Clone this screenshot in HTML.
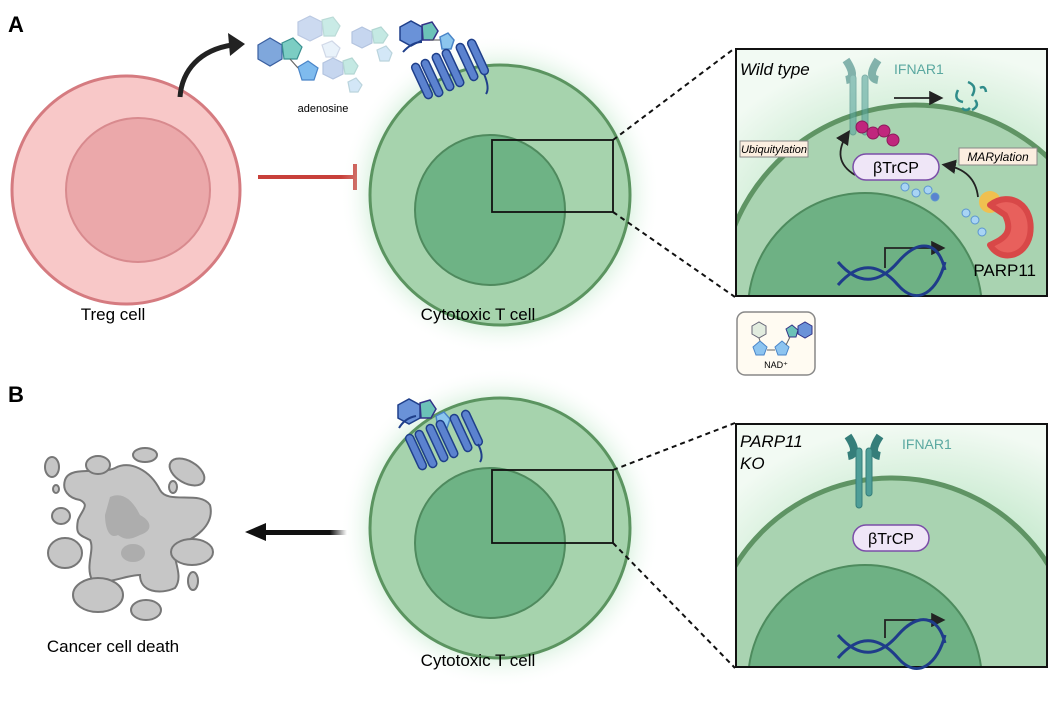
<!DOCTYPE html>
<html><head><meta charset="utf-8"><style>
html,body{margin:0;background:#fff;width:1050px;height:702px;overflow:hidden}
svg{display:block}
svg text{font-family:"Liberation Sans",sans-serif}
</style></head><body>
<svg width="1050" height="702" viewBox="0 0 1050 702" xmlns="http://www.w3.org/2000/svg">
<defs>
<radialGradient id="glow" cx="50%" cy="50%" r="50%">
<stop offset="0.7" stop-color="#9fdcae" stop-opacity="0.8"/>
<stop offset="1" stop-color="#ffffff" stop-opacity="0"/>
</radialGradient>
<radialGradient id="boxg" cx="60%" cy="80%" r="80%">
<stop offset="0.4" stop-color="#b8e4c2"/>
<stop offset="1" stop-color="#f2faf3"/>
</radialGradient>
<clipPath id="ca"><rect x="736" y="49" width="311" height="247"/></clipPath>
<clipPath id="cb"><rect x="736" y="424" width="311" height="243"/></clipPath>
<marker id="ah" markerWidth="8" markerHeight="8" refX="6" refY="4" orient="auto"><path d="M0,0 L8,4 L0,8 z" fill="#222"/></marker>
<linearGradient id="fade" x1="0" x2="1"><stop offset="0" stop-color="#111"/><stop offset="0.8" stop-color="#111"/><stop offset="1" stop-color="#111" stop-opacity="0"/></linearGradient>
</defs>

<text x="8" y="32" font-size="22" font-weight="bold">A</text>
<text x="8" y="402" font-size="22" font-weight="bold">B</text>

<!-- Treg -->
<circle cx="126" cy="190" r="114" fill="#f8c8c8" stroke="#d57b80" stroke-width="3"/>
<circle cx="138" cy="190" r="72" fill="#eba8aa" stroke="#d88a8e" stroke-width="2"/>
<text x="113" y="320" font-size="17" text-anchor="middle">Treg cell</text>
<path d="M180,97 C182,70 200,50 232,45" fill="none" stroke="#222" stroke-width="5"/>
<path d="M245,44 L228,33 L230,56 z" fill="#222"/>
<line x1="258" y1="177" x2="355" y2="177" stroke="#c8403a" stroke-width="4"/>
<line x1="355" y1="164" x2="355" y2="190" stroke="#c8403a" stroke-width="4"/>

<!-- adenosine -->
<g stroke-width="1.2">
<polygon points="258,45 270,38 282,45 282,59 270,66 258,59" fill="#7fa7dc" stroke="#3a5fa0"/>
<polygon points="282,43 293,38 302,47 297,59 284,59" fill="#7ccdc3" stroke="#3a9090"/>
<polygon points="298,67 308,61 318,68 314,80 302,80" fill="#7fbbee" stroke="#4a85c8"/>
<line x1="290" y1="59" x2="298" y2="68" stroke="#666"/>
<g opacity="0.45"><polygon points="298,22 310,16 322,22 322,35 310,41 298,35" fill="#8faee0" stroke="#6a8ac0"/><polygon points="322,20 333,17 340,26 335,36 324,36" fill="#8ad4c9" stroke="#6ab0a8"/><polygon points="322,45 332,41 340,48 336,57 326,57" fill="#cfe4f6" stroke="#9ac"/></g>
<g opacity="0.5"><polygon points="352,32 362,27 372,32 372,43 362,48 352,43" fill="#8faee0" stroke="#6a8ac0"/><polygon points="372,30 381,27 388,35 383,43 374,43" fill="#8ad4c9" stroke="#6ab0a8"/><polygon points="377,50 386,46 392,53 389,61 380,61" fill="#a8d0f0" stroke="#7ab"/></g>
<g opacity="0.5"><polygon points="323,63 333,58 343,63 343,74 333,79 323,74" fill="#8faee0" stroke="#6a8ac0"/><polygon points="343,61 352,58 358,66 354,74 345,74" fill="#8ad4c9" stroke="#6ab0a8"/><polygon points="348,82 356,78 362,85 358,92 350,92" fill="#a8d0f0" stroke="#7ab"/></g>
</g>
<text x="323" y="112" font-size="11" text-anchor="middle">adenosine</text>

<!-- T cell A -->
<circle cx="500" cy="195" r="160" fill="url(#glow)"/>
<circle cx="500" cy="195" r="130" fill="#a6d3ad" stroke="#5b9460" stroke-width="3"/>
<circle cx="490" cy="210" r="75" fill="#6eb385" stroke="#4f8a5e" stroke-width="2"/>
<rect x="492" y="140" width="121" height="72" fill="none" stroke="#111" stroke-width="1.8"/>
<text x="478" y="320" font-size="17" text-anchor="middle">Cytotoxic T cell</text>
<g fill="#5b82cf" stroke="#1f3f8a" stroke-width="1.5">
<polygon points="400,27 411,21 422,27 422,40 411,46 400,40" fill="#6a92d8"/>
<polygon points="422,25 432,22 438,31 433,40 423,40" fill="#6cc2b8" stroke="#338"/>
<polygon points="440,37 448,33 454,40 451,49 442,49" fill="#8cc6ee" stroke="#4a85c8"/>
<line x1="430" y1="40" x2="440" y2="40" stroke="#555" stroke-width="1"/>
<rect x="418" y="62" width="8" height="38" rx="4" transform="rotate(-25 422 81)"/>
<rect x="428" y="58" width="8" height="40" rx="4" transform="rotate(-25 432 78)"/>
<rect x="439" y="52" width="8" height="40" rx="4" transform="rotate(-25 443 72)"/>
<rect x="449" y="48" width="8" height="40" rx="4" transform="rotate(-25 453 68)"/>
<rect x="463" y="42" width="8" height="40" rx="4" transform="rotate(-25 467 62)"/>
<rect x="474" y="38" width="8" height="38" rx="4" transform="rotate(-25 478 57)"/>
</g>
<path d="M403,52 Q412,42 422,42 M484,74 Q490,88 486,94" fill="none" stroke="#1f3f8a" stroke-width="2"/>

<line x1="613" y1="140" x2="735" y2="48" stroke="#111" stroke-width="2" stroke-dasharray="5,4"/>
<line x1="613" y1="212" x2="735" y2="297" stroke="#111" stroke-width="2" stroke-dasharray="5,4"/>

<!-- Box A -->
<rect x="736" y="49" width="311" height="247" fill="url(#boxg)"/>
<g clip-path="url(#ca)">
<circle cx="915" cy="300" r="195" fill="#a9d3b1" stroke="#5f9464" stroke-width="5"/>
<circle cx="865" cy="310" r="117" fill="#6eb184" stroke="#4e8b5e" stroke-width="2"/>
</g>
<rect x="736" y="49" width="311" height="247" fill="none" stroke="#111" stroke-width="2"/>
<text x="740" y="75" font-size="17" font-style="italic">Wild type</text>
<g opacity="0.6" fill="#5aa69e" stroke="#3d8580">
<path d="M846,60 q12,18 0,20 M878,60 q-12,18 0,20" stroke-width="8" fill="none"/>
<rect x="850" y="75" width="6" height="60" rx="3"/><rect x="862" y="75" width="6" height="60" rx="3"/>
</g>
<text x="894" y="74" font-size="14" fill="#5aa8a0">IFNAR1</text>
<line x1="894" y1="98" x2="940" y2="98" stroke="#222" stroke-width="1.8" marker-end="url(#ah)"/>
<g fill="none" stroke="#2f8c8a" stroke-width="2.5"><path d="M958,90 q-5,10 5,12 M968,82 q10,4 4,14 M975,100 q5,6 -3,10 M962,108 q4,4 8,0 M980,88 q5,-3 6,4"/></g>
<g fill="#c0267d" stroke="#8c1a5a"><circle cx="862" cy="127" r="6"/><circle cx="873" cy="133" r="6"/><circle cx="884" cy="131" r="6"/><circle cx="893" cy="140" r="6"/></g>
<path d="M855,175 Q830,160 848,133" fill="none" stroke="#222" stroke-width="1.8" marker-end="url(#ah)"/>
<rect x="740" y="141" width="68" height="16" fill="#fbeee0" stroke="#888"/>
<text x="774" y="153" font-size="11" font-style="italic" text-anchor="middle">Ubiquitylation</text>
<rect x="959" y="148" width="78" height="17" fill="#fbeee0" stroke="#888"/>
<text x="998" y="161" font-size="12" font-style="italic" text-anchor="middle">MARylation</text>
<rect x="853" y="154" width="86" height="26" rx="13" fill="#efe6f7" stroke="#7b4ea8" stroke-width="1.5"/>
<text x="896" y="173" font-size="16" text-anchor="middle">βTrCP</text>
<path d="M978,197 Q975,170 945,165" fill="none" stroke="#222" stroke-width="1.8" marker-end="url(#ah)"/>
<g fill="#a8d4f4" stroke="#5b95cf"><circle cx="905" cy="187" r="4"/><circle cx="916" cy="193" r="4"/><circle cx="928" cy="190" r="4"/><circle cx="935" cy="197" r="4" fill="#5b82cf"/><circle cx="966" cy="213" r="4"/><circle cx="975" cy="220" r="4"/><circle cx="982" cy="232" r="4"/></g>
<circle cx="990" cy="202" r="11" fill="#f0c050"/>
<path d="M990,205 C1010,190 1035,205 1030,235 C1025,258 1000,262 990,245 C1000,240 1015,235 1005,215 Z" fill="#e8605c" stroke="#d84848" stroke-width="6" stroke-linejoin="round"/>
<text x="1036" y="276" font-size="17" text-anchor="end">PARP11</text>
<path d="M885,268 L885,248 L942,248" fill="none" stroke="#222" stroke-width="1.8" marker-end="url(#ah)"/>
<path d="M838,262 C858,285 878,285 898,262 S938,240 945,270 M838,285 C858,262 878,262 898,285 S938,290 945,262" fill="none" stroke="#1f3c8a" stroke-width="3"/>

<!-- NAD box -->
<rect x="737" y="312" width="78" height="63" rx="8" fill="#fffbf2" stroke="#888" stroke-width="1.5"/>
<polygon points="752,326 759,322 766,326 766,334 759,338 752,334" fill="#e2ecdf" stroke="#667"/>
<polygon points="753,347 760,341 767,347 764,355 756,355" fill="#8dc4f0" stroke="#4a85c8"/>
<polygon points="775,347 782,341 789,347 786,355 778,355" fill="#8dc4f0" stroke="#4a85c8"/>
<polygon points="786,329 792,325 798,330 796,337 789,337" fill="#6cc2b8" stroke="#338"/>
<polygon points="798,326 805,322 812,326 812,334 805,338 798,334" fill="#6a92d8" stroke="#338"/>
<path d="M759,338 L760,341 M767,350 L775,350 M786,345 L790,337" stroke="#666" fill="none"/>
<text x="776" y="368" font-size="9" text-anchor="middle">NAD⁺</text>

<!-- Cancer -->
<g fill="#c6c6c6" stroke="#777" stroke-width="2">
<path d="M65,480 C70,465 100,475 115,468 C130,460 150,470 160,490 C168,505 200,490 210,505 C215,525 195,540 175,545 C170,555 185,575 175,588 C160,595 140,592 140,575 C125,575 110,585 92,580 C85,565 95,550 90,540 C80,535 75,535 78,520 C82,510 90,505 80,500 C68,498 62,490 65,480 Z"/>
<ellipse cx="52" cy="467" rx="7" ry="10"/><ellipse cx="98" cy="465" rx="12" ry="9"/><ellipse cx="145" cy="455" rx="12" ry="7"/><ellipse cx="187" cy="472" rx="19" ry="11" transform="rotate(30 187 472)"/><ellipse cx="61" cy="516" rx="9" ry="8"/><ellipse cx="65" cy="553" rx="17" ry="15"/><ellipse cx="192" cy="552" rx="21" ry="13"/><ellipse cx="98" cy="595" rx="25" ry="17"/><ellipse cx="146" cy="610" rx="15" ry="10"/><ellipse cx="193" cy="581" rx="5" ry="9"/><ellipse cx="56" cy="489" rx="3" ry="4"/><ellipse cx="173" cy="487" rx="4" ry="6"/>
</g>
<path d="M110,497 C125,490 135,505 140,515 C150,520 155,530 140,535 C130,540 125,540 118,535 C108,540 105,525 105,515 Z" fill="#adadad"/>
<ellipse cx="133" cy="553" rx="12" ry="9" fill="#adadad"/>
<text x="113" y="652" font-size="17" text-anchor="middle">Cancer cell death</text>
<rect x="262" y="530" width="85" height="5" fill="url(#fade)"/>
<path d="M245,532 L266,523 L266,541 z" fill="#111"/>

<!-- T cell B -->
<circle cx="500" cy="528" r="160" fill="url(#glow)"/>
<circle cx="500" cy="528" r="130" fill="#a6d3ad" stroke="#5b9460" stroke-width="3"/>
<circle cx="490" cy="543" r="75" fill="#6eb385" stroke="#4f8a5e" stroke-width="2"/>
<rect x="492" y="470" width="121" height="73" fill="none" stroke="#111" stroke-width="1.8"/>
<text x="478" y="666" font-size="17" text-anchor="middle">Cytotoxic T cell</text>
<g fill="#5b82cf" stroke="#1f3f8a" stroke-width="1.5">
<polygon points="398,405 409,399 420,405 420,418 409,424 398,418" fill="#6a92d8"/>
<polygon points="420,403 430,400 436,409 431,418 421,418" fill="#6cc2b8" stroke="#338"/>
<polygon points="436,416 444,412 450,419 447,428 438,428" fill="#8cc6ee" stroke="#4a85c8"/>
<rect x="412" y="433" width="8" height="38" rx="4" transform="rotate(-25 416 452)"/>
<rect x="422" y="429" width="8" height="40" rx="4" transform="rotate(-25 426 449)"/>
<rect x="433" y="423" width="8" height="40" rx="4" transform="rotate(-25 437 443)"/>
<rect x="443" y="419" width="8" height="40" rx="4" transform="rotate(-25 447 439)"/>
<rect x="457" y="413" width="8" height="40" rx="4" transform="rotate(-25 461 433)"/>
<rect x="468" y="409" width="8" height="38" rx="4" transform="rotate(-25 472 428)"/>
</g>
<path d="M399,428 Q405,418 416,416 M478,444 Q484,456 480,462" fill="none" stroke="#1f3f8a" stroke-width="2"/>
<line x1="613" y1="470" x2="735" y2="423" stroke="#111" stroke-width="2" stroke-dasharray="5,4"/>
<line x1="613" y1="543" x2="735" y2="668" stroke="#111" stroke-width="2" stroke-dasharray="5,4"/>

<!-- Box B -->
<rect x="736" y="424" width="311" height="243" fill="url(#boxg)"/>
<g clip-path="url(#cb)">
<circle cx="892" cy="662" r="184" fill="#a9d3b1" stroke="#5f9464" stroke-width="5"/>
<circle cx="865" cy="682" r="117" fill="#6eb184" stroke="#4e8b5e" stroke-width="2"/>
</g>
<rect x="736" y="424" width="311" height="243" fill="none" stroke="#111" stroke-width="2"/>
<text x="740" y="447" font-size="17" font-style="italic">PARP11</text>
<text x="740" y="469" font-size="17" font-style="italic">KO</text>
<g fill="#4e9e98" stroke="#357e7a">
<path d="M848,436 q12,18 0,20 M880,436 q-12,18 0,20" stroke-width="8" fill="none"/>
<rect x="856" y="448" width="6" height="60" rx="3"/><rect x="866" y="448" width="6" height="48" rx="3"/>
</g>
<text x="902" y="449" font-size="14" fill="#5aa8a0">IFNAR1</text>
<rect x="853" y="525" width="76" height="26" rx="13" fill="#efe6f7" stroke="#7b4ea8" stroke-width="1.5"/>
<text x="891" y="544" font-size="16" text-anchor="middle">βTrCP</text>
<path d="M885,638 L885,620 L942,620" fill="none" stroke="#222" stroke-width="1.8" marker-end="url(#ah)"/>
<path d="M838,635 C858,658 878,658 898,635 S938,615 945,643 M838,658 C858,635 878,635 898,658 S938,663 945,635" fill="none" stroke="#1f3c8a" stroke-width="3"/>
</svg>
</body></html>
